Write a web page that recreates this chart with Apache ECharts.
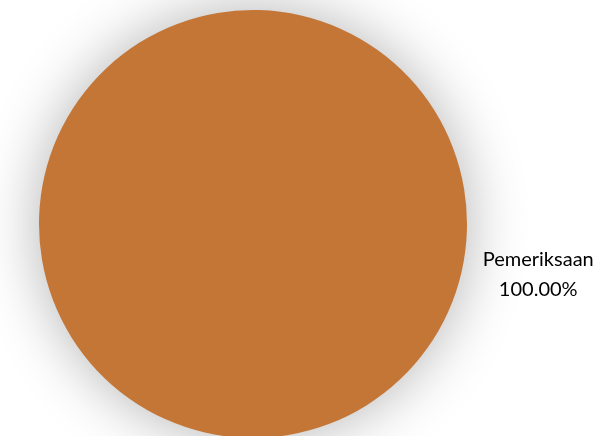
<!DOCTYPE html>
<html><head><meta charset="utf-8">
<script src="https://cdn.jsdelivr.net/npm/echarts@6/dist/echarts.min.js"></script>
<style>html,body{margin:0;padding:0;background:#fff;}#c{width:611px;height:436px;}</style>
</head><body><div id="c"></div>
<script>
const categories = ['Pemeriksaan'];
const values = [100];
const colors = ['#C47637'];
const chart = echarts.init(document.getElementById('c'));
chart.setOption({
  animation: false,
  backgroundColor: '#ffffff',
  series: [{
    type: 'pie',
    center: [253, 224],
    radius: 214,
    startAngle: 167,
    clockwise: true,
    data: categories.map((n, i) => ({ name: n, value: values[i], itemStyle: { color: colors[i] } })),
    itemStyle: { shadowBlur: 60, shadowColor: 'rgba(0,0,0,0.3)' },
    label: {
      show: true,
      position: 'outside',
      formatter: p => '{a|' + p.name + '}\n{a|' + p.percent.toFixed(2) + '%}',
      rich: {
        a: { fontFamily: 'Lato', fontSize: 20, color: '#000', lineHeight: 30, width: 122, align: 'center' }
      }
    },
    labelLine: { show: false, length: 11, length2: 0 },
    emphasis: { disabled: true }
  }]
});
</script></body></html>
